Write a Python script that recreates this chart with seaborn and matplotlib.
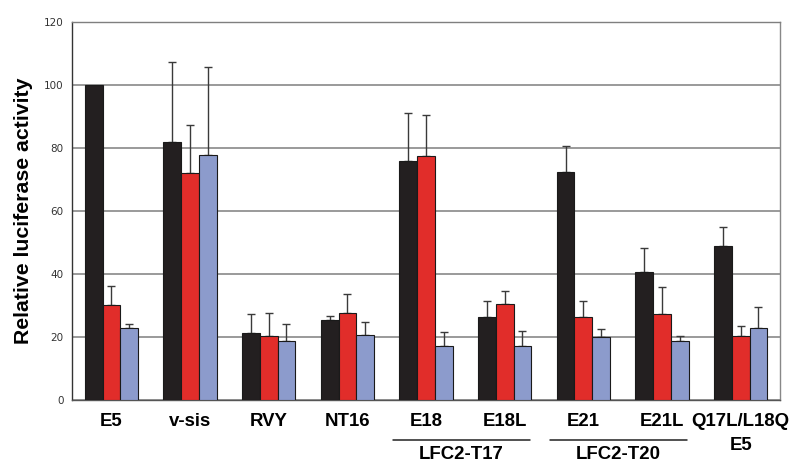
import numpy as np
import pandas as pd
import matplotlib
matplotlib.use("Agg")
import matplotlib.pyplot as plt
import matplotlib.transforms as mtransforms
import seaborn as sns

# values (relative luciferase activity)
constructs = ["E5", "v-sis", "RVY", "NT16", "E18", "E18L", "E21", "E21L", "Q17L/L18Q\nE5"]
series = ["black", "red", "blue"]
black_vals = [100, 81.8, 21.4, 25.6, 76.0, 26.5, 72.5, 40.8, 48.9]
black_err = [0, 25.5, 6.0, 1.2, 15.0, 5.2, 8.3, 7.7, 6.2]
red_vals = [30.2, 72.2, 20.3, 27.8, 77.5, 30.7, 26.6, 27.5, 20.5]
red_err = [6.1, 15.1, 7.3, 6.1, 12.9, 4.0, 5.0, 8.5, 3.2]
blue_vals = [23.1, 77.7, 18.8, 20.8, 17.2, 17.2, 20.1, 18.9, 23.1]
blue_err = [1.0, 28.0, 5.3, 4.0, 4.5, 4.8, 2.5, 1.6, 6.6]
group_labels = ["LFC2-T17", "LFC2-T20"]
group_members = [("E18", "E18L"), ("E21", "E21L")]

palette = {"black": "#231f20", "red": "#e12d2a", "blue": "#8c9bcc"}

df = pd.DataFrame({
    "construct": constructs * 3,
    "series": np.repeat(series, len(constructs)),
    "value": black_vals + red_vals + blue_vals,
    "err": black_err + red_err + blue_err,
})

sns.set_theme(style="white")
plt.rcParams["font.family"] = ["Liberation Sans", "DejaVu Sans"]
plt.rcParams["text.color"] = "black"
plt.rcParams["axes.labelcolor"] = "black"
plt.rcParams["xtick.color"] = "black"

fig = plt.figure(figsize=(7.89, 4.63), dpi=100)
ax = fig.add_axes([0.0913, 0.135, 0.8973, 0.8175])

sns.barplot(data=df, x="construct", y="value", hue="series", order=constructs,
            hue_order=series, palette=palette, saturation=1, width=0.675, gap=0,
            edgecolor="#1a1a1a", linewidth=0.8, errorbar=None, legend=False,
            zorder=3, ax=ax)

# one-sided error bars on top of each bar
for cont, s in zip(ax.containers, series):
    errs = df[df["series"] == s].set_index("construct").loc[constructs, "err"].values
    xs = np.array([b.get_x() + b.get_width() / 2 for b in cont])
    hs = np.array([b.get_height() for b in cont])
    keep = errs > 0
    ax.errorbar(xs[keep], hs[keep], yerr=[np.zeros(keep.sum()), errs[keep]],
                fmt="none", ecolor="#3a3a3a", elinewidth=1.0, capsize=3,
                capthick=1.0, zorder=2)

ax.set_ylim(0, 120)
ax.set_xlim(-0.5, len(constructs) - 0.5)
ax.set_yticks(range(0, 121, 20))
ax.yaxis.grid(True, color="#7f7f7f", linewidth=1.1, zorder=0)
ax.set_axisbelow(True)

ax.set_ylabel("Relative luciferase activity", fontsize=15.3, fontweight="bold",
              labelpad=8, color="black")
ax.set_xlabel("")
ax.tick_params(axis="y", direction="out", length=4, width=0.8, color="#333333",
               labelsize=7.5, labelcolor="#333333", pad=2)
for lab in ax.get_yticklabels():
    lab.set_family("DejaVu Sans")
ax.tick_params(axis="x", length=0, pad=9, labelcolor="black")
for lab in ax.get_xticklabels():
    lab.set_fontsize(13.4)
    lab.set_fontweight("bold")
    lab.set_linespacing(1.55)
    lab.set_verticalalignment("top")

for side, col in [("left", "#333333"), ("bottom", "#555555"),
                  ("right", "#888888"), ("top", "#7f7f7f")]:
    ax.spines[side].set_visible(True)
    ax.spines[side].set_color(col)
    ax.spines[side].set_linewidth(1.0)

# bracket lines with group names under the pairs
trans = mtransforms.blended_transform_factory(ax.transData, ax.transAxes)
for name, (a, b) in zip(group_labels, group_members):
    i0, i1 = constructs.index(a), constructs.index(b)
    x0, x1 = i0 - 0.42, i1 + 0.32
    ax.plot([x0, x1], [-0.1044, -0.1044], color="#222222", lw=1.1,
            transform=trans, clip_on=False)
    ax.text((x0 + x1) / 2, -0.12, name, transform=trans, ha="center", va="top",
            fontsize=13.4, fontweight="bold", color="black")

fig.savefig("out.png", dpi=100)
